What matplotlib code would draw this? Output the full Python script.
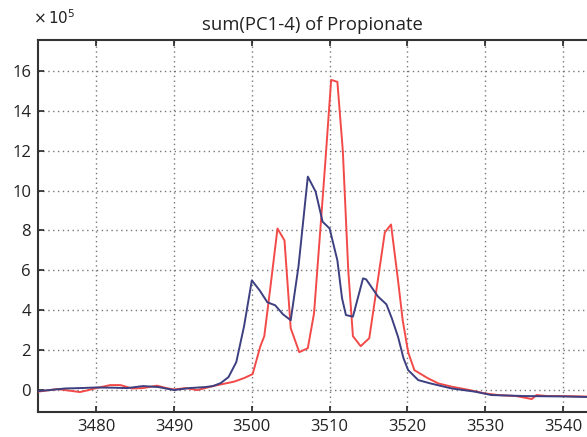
import matplotlib
matplotlib.use("Agg")
import matplotlib.pyplot as plt

title = "sum(PC1-4) of Propionate"
x_ticks = [3480, 3490, 3500, 3510, 3520, 3530, 3540]
y_ticks = [0, 2, 4, 6, 8, 10, 12, 14, 16]

blue_x = [3472.5, 3474, 3476, 3478, 3480, 3482, 3484, 3486, 3488, 3490, 3492, 3494, 3495,
          3496, 3497, 3498, 3499, 3500, 3501, 3502, 3503, 3504, 3505, 3506, 3507.2, 3508.2,
          3509.1, 3510, 3511, 3511.6, 3512.1, 3513, 3514.3, 3514.7, 3516.2, 3517.3, 3518,
          3518.8, 3519.5, 3520.1, 3521.4, 3523, 3525.7, 3528.7, 3530.8, 3535, 3540, 3543.5]
blue_y = [-0.05, 0.0, 0.08, 0.1, 0.13, 0.12, 0.1, 0.2, 0.15, 0.0, 0.1, 0.15, 0.2,
          0.35, 0.65, 1.4, 3.2, 5.5, 5.0, 4.4, 4.25, 3.8, 3.5, 6.2, 10.7, 9.95,
          8.44, 8.1, 6.5, 4.6, 3.76, 3.68, 5.6, 5.55, 4.7, 4.3, 3.6,
          2.67, 1.6, 1.0, 0.5, 0.33, 0.08, -0.08, -0.25, -0.3, -0.32, -0.35]

red_x = [3472.5, 3475, 3477.9, 3479, 3480, 3481.8, 3483.1, 3484.6, 3486, 3487.8, 3489,
         3490, 3491.5, 3493, 3495, 3497.7, 3499, 3500.1, 3501.1, 3501.6, 3502.4, 3503.3,
         3504.2, 3505, 3506.1, 3507.2, 3508, 3508.8, 3509.5, 3510.2, 3511.0, 3511.7,
         3512.4, 3513.0, 3514.0, 3515.1, 3516.2, 3517.1, 3517.9, 3518.8, 3519.4, 3520.1,
         3520.9, 3522.6, 3524, 3525.7, 3528, 3530, 3531.7, 3534, 3536, 3536.6, 3538,
         3540, 3543.5]
red_y = [-0.08, 0.05, -0.1, 0.0, 0.1, 0.25, 0.25, 0.08, 0.1, 0.22, 0.1,
         0.03, 0.1, 0.0, 0.2, 0.42, 0.6, 0.8, 2.2, 2.7, 5.2, 8.1,
         7.5, 3.1, 1.9, 2.1, 3.85, 8.0, 11.7, 15.55, 15.45, 12.0,
         6.0, 2.7, 2.2, 2.6, 5.5, 7.9, 8.3, 5.5, 3.5, 1.9,
         1.0, 0.6, 0.33, 0.17, 0.0, -0.17, -0.25, -0.3, -0.45, -0.25, -0.3,
         -0.3, -0.33]

plt.rcParams['font.family'] = ['Open Sans', 'DejaVu Sans']

fig = plt.figure(figsize=(5.87, 4.37), dpi=100)
ax = fig.add_axes([0.0647, 0.0572, 0.9353, 0.8513])

ax.plot(red_x, red_y, color='#f24a48', lw=1.4, zorder=3)
ax.plot(blue_x, blue_y, color='#3d4080', lw=1.4, zorder=4)

ax.set_xlim(3472.5, 3543.1)
ax.set_ylim(-1.1, 17.55)
ax.set_xticks(x_ticks)
ax.set_yticks(y_ticks)
ax.grid(True, linestyle=(0, (1, 2.5)), color='#777777', lw=1.0)
ax.tick_params(direction='in', top=True, right=False, length=4, width=1.2,
               labelsize=12, colors='#222222', pad=5)
for s in ['left', 'bottom', 'top']:
    ax.spines[s].set_linewidth(1.5)
    ax.spines[s].set_color('#333333')
ax.spines['right'].set_visible(False)

ax.set_title(title, fontsize=13.3, pad=7, color='#222222')
fig.text(0.057, 0.957, r'$\times\,10^5$', fontsize=11, color='#222222',
         ha='left', va='center', math_fontfamily='dejavusans')

fig.savefig('out.png', dpi=100)
